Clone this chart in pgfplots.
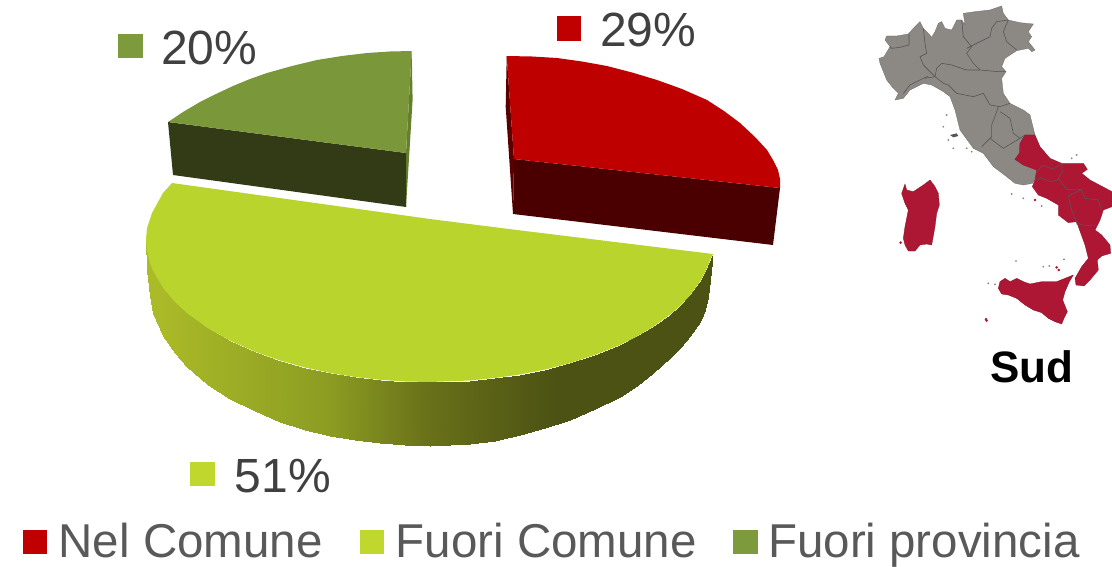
\documentclass[border=0pt]{standalone}
\usepackage{pgfplots}
\usepackage{fontspec}
\setmainfont{Liberation Sans}
\pgfplotsset{compat=1.18}
\definecolor{labc}{HTML}{404040}
\definecolor{legc}{HTML}{595959}
\definecolor{mapg}{HTML}{8C8884}
\definecolor{mapr}{HTML}{AE1733}
\definecolor{mapl}{HTML}{565656}
\pgfplotsset{mapc/.style={x filter/.expression={860+x/3}, y filter/.expression={y/3}},
 mapline/.style={mapc,draw=mapl,line width=0.6pt,no markers,line join=round}}
\begin{document}
\begin{tikzpicture}
\begin{axis}[
 width=1112pt,height=567pt,scale only axis,hide axis,
 xmin=0,xmax=1112,ymin=0,ymax=567,y dir=reverse,
 colormap={rim}{rgb255(146)=(172,188,40) rgb255(330)=(140,156,34) rgb255(430)=(104,112,25) rgb255(555)=(76,82,19) rgb255(713)=(76,82,19)},
 point meta min=146,point meta max=713]

% green slice
\addplot[fill={rgb,255:red,100;green,128;blue,45},draw=none] coordinates {(411.7,51)(412.6,100)(406,207)(406,153)} --cycle;
\addplot[fill={rgb,255:red,50;green,58;blue,22},draw=none] coordinates {(168,122)(406,153)(406,207)(173,175)} --cycle;
\addplot[fill={rgb,255:red,122;green,151;blue,58},draw=none] coordinates {(411.7,51)(390,51.5)(367,53)(342,56)(317,60)(292,66)(267,73)(250,79)(233,86)(216,94)(200,102)(183,112)(168,122)(406,153)} --cycle;

% red slice
\addplot[fill={rgb,255:red,90;green,0;blue,0},draw=none] coordinates {(506.7,56)(505.7,107)(513,214)(514,159)} --cycle;
\addplot[fill={rgb,255:red,74;green,0;blue,0},draw=none] coordinates {(514,159)(780,188)(773,245)(513,214)} --cycle;
\addplot[fill={rgb,255:red,190;green,0;blue,0},draw=none] coordinates {(506.7,56)(532,56.5)(557,58)(582,61.5)(607,66)(632,72.5)(657,80)(682,89)(707,100)(724,111)(740,123)(755,137)(767,150)(773,160)(778,170)(780,179)(780,188)(514,159)} --cycle;

% yellow slice rim
\addplot[patch,patch type=rectangle,shader=interp,point meta=x] coordinates {
(146,239)(147,251)(147,270)(146,239)
(147,251)(150,263)(150,296)(147,270)
(150,263)(153,270.6)(153,313)(150,296)
(153,270.6)(163,287.8)(163,336)(153,313)
(163,287.8)(175,302)(175,353)(163,336)
(175,302)(187,313)(187,367)(175,353)
(187,313)(208,328.3)(208,385)(187,367)
(208,328.3)(230,340.6)(230,399)(208,385)
(230,340.6)(255,351.7)(255,411)(230,399)
(255,351.7)(280,360.5)(280,422)(255,411)
(280,360.5)(305,367.5)(305,430)(280,422)
(305,367.5)(330,373)(330,436)(305,430)
(330,373)(355,377)(355,440)(330,436)
(355,377)(380,379.8)(380,443)(355,440)
(380,379.8)(405,381.5)(405,445)(380,443)
(405,381.5)(430,382)(430,446)(405,445)
(430,382)(470,380.5)(470,444)(430,446)
(470,380.5)(495,378)(495,441)(470,444)
(495,378)(520,374.5)(520,435)(495,441)
(520,374.5)(545,369.6)(545,428)(520,435)
(545,369.6)(570,363.2)(570,420)(545,428)
(570,363.2)(595,355)(595,409)(570,420)
(595,355)(620,345)(620,397)(595,409)
(620,345)(637,336.4)(637,386)(620,397)
(637,336.4)(653,327)(653,373)(637,386)
(653,327)(670,314.7)(670,358)(653,373)
(670,314.7)(680,306)(680,348)(670,358)
(680,306)(690,295.4)(690,336)(680,348)
(690,295.4)(700,281.8)(700,322)(690,336)
(700,281.8)(705,272.7)(705,310)(700,322)
(705,272.7)(708,265.7)(708,297)(705,310)
(708,265.7)(713,254)(713,254)(708,297)
};
% yellow slice top
\addplot[fill={rgb,255:red,186;green,212;blue,46},draw=none] coordinates {(172,183)(163,193)(152,213)(147,228)(146,239)(147,251)(150,263)(153,270.6)(163,287.8)(175,302)(187,313)(208,328.3)(230,340.6)(255,351.7)(280,360.5)(305,367.5)(330,373)(355,377)(380,379.8)(405,381.5)(430,382)(470,380.5)(495,378)(520,374.5)(545,369.6)(570,363.2)(595,355)(620,345)(637,336.4)(653,327)(670,314.7)(680,306)(690,295.4)(700,281.8)(705,272.7)(708,265.7)(711,258)(713,254)(517,230)(430,219)} --cycle;

% small square markers
\addplot[fill={rgb,255:red,192;green,0;blue,0},draw=none] coordinates {(557,16)(581,16)(581,41)(557,41)} --cycle;
\addplot[fill={rgb,255:red,125;green,155;blue,61},draw=none] coordinates {(118,34)(143,34)(143,58)(118,58)} --cycle;
\addplot[fill={rgb,255:red,192;green,215;blue,46},draw=none] coordinates {(190,462)(215,462)(215,486)(190,486)} --cycle;
\addplot[fill={rgb,255:red,192;green,0;blue,0},draw=none] coordinates {(23,530)(47,530)(47,554)(23,554)} --cycle;
\addplot[fill={rgb,255:red,192;green,215;blue,46},draw=none] coordinates {(360,530)(384,530)(384,554)(360,554)} --cycle;
\addplot[fill={rgb,255:red,125;green,155;blue,61},draw=none] coordinates {(733,530)(758,530)(758,554)(733,554)} --cycle;

% map: grey regions
\addplot[mapc,fill=mapg,draw=mapg!80!black,line width=0.3pt] coordinates {
(57,175)(72,170)(90,140)(75,120)(80,108)(110,108)(145,102)(160,85)(180,65)(190,85)(205,100)(215,112)(225,95)(235,70)(245,65)(255,85)(275,90)(290,60)(305,60)(315,75)(310,40)(345,35)(390,30)(425,18)(430,40)(445,60)(480,68)(520,72)(505,95)(515,110)(505,125)(525,150)(515,155)(505,145)(470,152)(435,175)(425,200)(438,215)(425,235)(430,280)(450,310)(490,330)(510,345)(525,405)(495,405)(480,430)(478,460)(465,478)(490,495)(530,510)(525,540)(517,550)(490,555)(465,550)(440,530)(400,500)(370,460)(340,445)(300,390)(285,330)(270,290)(250,275)(215,255)(190,250)(150,270)(130,295)(105,300)(115,280)(100,265)(80,240)(70,215)(60,190)} --cycle;
\addplot[mapline] coordinates {(147,102)(147,135)(120,142)(95,145)(90,140)};
\addplot[mapline] coordinates {(190,85)(195,130)(200,160)(180,170)(190,195)(225,230)};
\addplot[mapline] coordinates {(225,230)(230,205)(245,190)(275,195)(320,210)(360,210)(415,215)(438,215)};
\addplot[mapline] coordinates {(195,235)(225,230)(250,250)(265,255)(290,280)(340,290)(370,280)(390,315)(420,320)(450,310)};
\addplot[mapline] coordinates {(130,280)(150,255)(190,235)(205,228)};
\addplot[mapline] coordinates {(305,60)(310,110)(335,140)(320,160)(340,190)(360,210)};
\addplot[mapline] coordinates {(320,145)(350,130)(390,110)(395,85)(410,65)(445,60)};
\addplot[mapline] coordinates {(445,60)(430,95)(440,125)(470,150)};
\addplot[mapline] coordinates {(415,320)(410,335)(395,375)(395,410)(365,440)};
\addplot[mapline] coordinates {(420,335)(450,355)(460,400)(480,415)(495,405)};
\addplot[mapline] coordinates {(390,415)(430,445)(480,415)};

% map: red regions
\addplot[mapc,fill=mapr,draw=mapr!80!black,line width=0.3pt] coordinates {
(495,405)(525,405)(540,440)(570,475)(605,490)(670,490)(682,508)(665,520)(690,540)(756,575)(756,620)(730,630)(720,660)(705,690)(725,705)(750,735)(752,760)(725,768)(712,780)(715,810)(690,840)(672,858)(648,855)(645,835)(665,800)(685,775)(675,735)(655,680)(650,665)(625,668)(595,645)(595,615)(560,595)(535,585)(517,560)(525,540)(530,510)(490,495)(465,478)(478,460)(480,430)} --cycle;
\addplot[mapline] coordinates {(530,515)(548,495)(580,508)(605,490)(607,515)(592,540)(570,545)(542,533)(525,540)};
\addplot[mapline] coordinates {(595,535)(620,568)(665,568)(625,588)(635,630)(652,675)};
\addplot[mapline] coordinates {(665,568)(675,595)(715,600)(725,630)};
\addplot[mapline] coordinates {(652,670)(675,677)(715,675)};
% Sardinia
\addplot[mapc,fill=mapr,draw=mapr!75!black,line width=0.3pt] coordinates {
(135,552)(140,570)(160,575)(190,555)(210,540)(225,560)(235,580)(238,615)(230,640)(225,680)(215,735)(200,732)(180,735)(165,753)(145,753)(135,735)(130,715)(135,680)(145,630)(135,610)(125,580)} --cycle;
% Sicily
\addplot[mapc,fill=mapr,draw=mapr!75!black,line width=0.3pt] coordinates {
(640,825)(628,845)(615,875)(608,900)(622,935)(612,955)(605,972)(585,965)(565,955)(545,938)(520,930)(495,915)(470,895)(445,885)(425,882)(415,865)(420,845)(435,835)(450,845)(470,835)(490,845)(510,852)(545,845)(590,845)} --cycle;
% small islands
\addplot[mapc,only marks,mark=*,mark size=1.1pt,color=mapr,mark options={fill=mapr,draw=mapr}] coordinates {(378,958)(380,962)(590,802)(596,810)(525,600)(122,728)};
\addplot[mapc,only marks,mark=*,mark size=0.7pt,color=mapg,mark options={fill=mapg,draw=mapg}] coordinates {(250,380)(260,345)(265,420)(280,445)(320,445)(335,455)(385,850)(405,853)(550,800)(568,798)(612,778)(468,783)(455,582)(490,595)(635,475)(650,465)(545,618)};
\addplot[mapc,fill=mapl,draw=none] coordinates {(270,405)(290,400)(295,408)(280,412)} --cycle;

% text
\node[anchor=base west,inner sep=0,text=labc,font=\fontsize{48}{50}\selectfont] at (axis cs:600,46.5) {29\%};
\node[anchor=base west,inner sep=0,text=labc,font=\fontsize{48}{50}\selectfont] at (axis cs:161,65) {20\%};
\node[anchor=base west,inner sep=0,text=labc,font=\fontsize{48}{50}\selectfont] at (axis cs:234.5,492.5) {51\%};
\node[anchor=base west,inner sep=0,text=legc,font=\fontsize{47.5}{50}\selectfont] at (axis cs:58.5,557.5) {Nel Comune};
\node[anchor=base west,inner sep=0,text=legc,font=\fontsize{47.5}{50}\selectfont] at (axis cs:395.5,557.5) {Fuori Comune};
\node[anchor=base west,inner sep=0,text=legc,font=\fontsize{47.5}{50}\selectfont] at (axis cs:768,557.5) {Fuori provincia};
\node[anchor=base west,inner sep=0,text=black,font=\fontsize{44}{48}\selectfont\bfseries] at (axis cs:990,382.5) {Sud};
\end{axis}
\pgfresetboundingbox
\path[use as bounding box] (current axis.south west) rectangle (current axis.north east);
\end{tikzpicture}
\end{document}
